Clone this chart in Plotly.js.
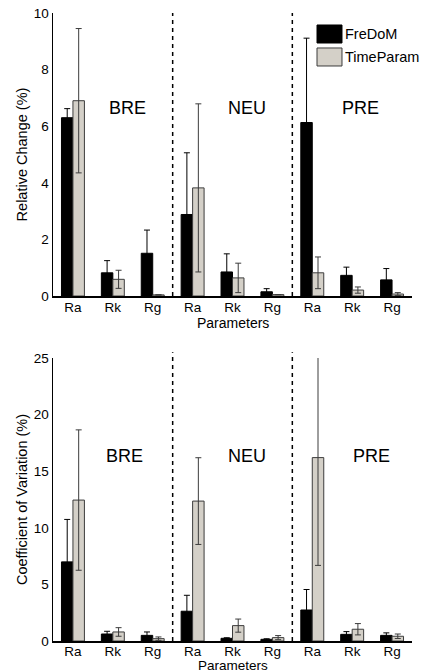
<!DOCTYPE html>
<html><head><meta charset="utf-8">
<script src="https://cdn.plot.ly/plotly-3.0.1.min.js"></script>
<style>html,body{margin:0;padding:0;background:#fff}</style>
</head><body><div id="chart" style="width:421px;height:672px"></div>
<script>
// ---- data ----
const tickLabels = ['Ra','Rk','Rg','Ra','Rk','Rg','Ra','Rk','Rg'];
const positions = [1,2,3,4,5,6,7,8,9];
const sections = ['BRE','NEU','PRE'];
const seriesNames = ['FreDoM','TimeParam'];
// Relative Change (%)
const rcFreDoM    = [6.30,0.82,1.51, 2.88,0.85,0.15, 6.13,0.73,0.57];
const rcFreDoMErr = [0.32,0.43,0.82, 2.18,0.64,0.11, 2.98,0.29,0.40];
const rcTime      = [6.90,0.59,0.04, 3.82,0.64,0.05, 0.82,0.21,0.07];
const rcTimeErr   = [2.55,0.32,0.00, 2.97,0.52,0.00, 0.56,0.11,0.05];
// Coefficient of Variation (%)
const cvFreDoM    = [6.99,0.62,0.50, 2.63,0.24,0.15, 2.74,0.59,0.50];
const cvFreDoMErr = [3.75,0.24,0.30, 1.41,0.05,0.05, 1.81,0.24,0.22];
const cvTime      = [12.45,0.80,0.21, 12.36,1.36,0.30, 16.20,1.04,0.42];
const cvTimeErr   = [6.20,0.38,0.15, 3.83,0.58,0.18, 9.52,0.50,0.20];

// ---- styles ----
const FONT = 'Liberation Sans, Arial, sans-serif';
const BLACK = '#000000', GRAY = '#d4d0c8', GRAY_LINE = '#3c3c3c';

function bar(name, y, err, xa, ya, isGray) {
  return {
    type: 'bar', name: name, x: positions, y: y, xaxis: xa, yaxis: ya,
    showlegend: false,
    marker: {color: isGray ? GRAY : BLACK, line: {color: isGray ? GRAY_LINE : BLACK, width: 1}},
    error_y: {type: 'data', array: err, visible: true, color: isGray ? GRAY_LINE : BLACK, thickness: 1, width: 3}
  };
}

const data = [
  bar(seriesNames[0], rcFreDoM, rcFreDoMErr, 'x', 'y', false),
  bar(seriesNames[1], rcTime, rcTimeErr, 'x', 'y', true),
  bar(seriesNames[0], cvFreDoM, cvFreDoMErr, 'x2', 'y2', false),
  bar(seriesNames[1], cvTime, cvTimeErr, 'x2', 'y2', true)
];

const xCommon = {
  range: [0.5, 9.5], tickmode: 'array', tickvals: positions, ticktext: tickLabels,
  showline: true, linecolor: BLACK, linewidth: 1.5, ticks: '', showgrid: false, zeroline: false,
  ticklabelstandoff: -2,
  tickfont: {family: FONT, size: 13.5, color: '#000'}, fixedrange: true
};
const yCommon = {
  showline: true, linecolor: BLACK, linewidth: 1.5, ticks: '', showgrid: false, zeroline: false,
  tickfont: {family: FONT, size: 13.5, color: '#000'}, fixedrange: true
};

const layout = {
  width: 421, height: 672,
  margin: {l: 53, r: 9, t: 0, b: 0},
  paper_bgcolor: '#fff', plot_bgcolor: '#fff',
  showlegend: false,
  barmode: 'group', bargap: 0.425, bargroupgap: 0,
  font: {family: FONT, color: '#000'},
  xaxis: Object.assign({}, xCommon, {anchor: 'y'}),
  yaxis: Object.assign({}, yCommon, {anchor: 'x', domain: [0.5595, 0.9807], range: [0, 10], dtick: 2,
    title: {text: 'Relative Change (%)', font: {family: FONT, size: 14.5}, standoff: 2}}),
  xaxis2: Object.assign({}, xCommon, {anchor: 'y2', ticklabelstandoff: -3}),
  yaxis2: Object.assign({}, yCommon, {anchor: 'x2', domain: [0.0461, 0.4673], range: [0, 25], dtick: 5,
    title: {text: 'Coefficient of Variation (%)', font: {family: FONT, size: 14.5}, standoff: 2}}),
  shapes: [],
  annotations: []
};

// section separators
[3.5, 6.5].forEach(v => {
  layout.shapes.push({type: 'line', xref: 'x', yref: 'y domain', x0: v, x1: v, y0: 0, y1: 1,
    line: {color: BLACK, width: 1.5, dash: '4px,4px'}});
  layout.shapes.push({type: 'line', xref: 'x2', yref: 'y2 domain', x0: v, x1: v, y0: 0, y1: 1.02,
    line: {color: BLACK, width: 1.5, dash: '4px,4px'}});
});

// section labels
const secTopX = [2.375, 5.375, 8.2], secBotX = [2.3, 5.375, 8.475];
sections.forEach((s, i) => {
  layout.annotations.push({text: s, xref: 'x', yref: 'y', x: secTopX[i], y: 6.63, showarrow: false,
    font: {family: FONT, size: 18, color: '#000'}});
  layout.annotations.push({text: s, xref: 'x2', yref: 'y2', x: secBotX[i], y: 16.3, showarrow: false,
    font: {family: FONT, size: 18, color: '#000'}});
});

// x-axis titles
layout.annotations.push({text: 'Parameters', xref: 'x domain', yref: 'y domain', x: 0.5, y: 0,
  yshift: -27, yanchor: 'middle', showarrow: false, font: {family: FONT, size: 14, color: '#000'}});
layout.annotations.push({text: 'Parameters', xref: 'x2 domain', yref: 'y2 domain', x: 0.5, y: 0,
  yshift: -24.5, yanchor: 'middle', showarrow: false, font: {family: FONT, size: 13.5, color: '#000'}});

// legend (top panel)
const legBoxes = [{y0: 0.936, y1: 0.9628, ty: 0.9494, fill: BLACK, line: BLACK},
                  {y0: 0.9018, y1: 0.9286, ty: 0.9152, fill: GRAY, line: GRAY_LINE}];
legBoxes.forEach((b, i) => {
  layout.shapes.push({type: 'rect', xref: 'paper', yref: 'paper', x0: 0.7354, x1: 0.805, y0: b.y0, y1: b.y1,
    fillcolor: b.fill, line: {color: b.line, width: 1}});
  layout.annotations.push({text: seriesNames[i], xref: 'paper', yref: 'paper', x: 0.8078, y: b.ty,
    xanchor: 'left', yanchor: 'middle', showarrow: false, font: {family: FONT, size: 14.5, color: '#000'}});
});

Plotly.newPlot('chart', data, layout, {displayModeBar: false, staticPlot: true});
</script>
</body></html>
